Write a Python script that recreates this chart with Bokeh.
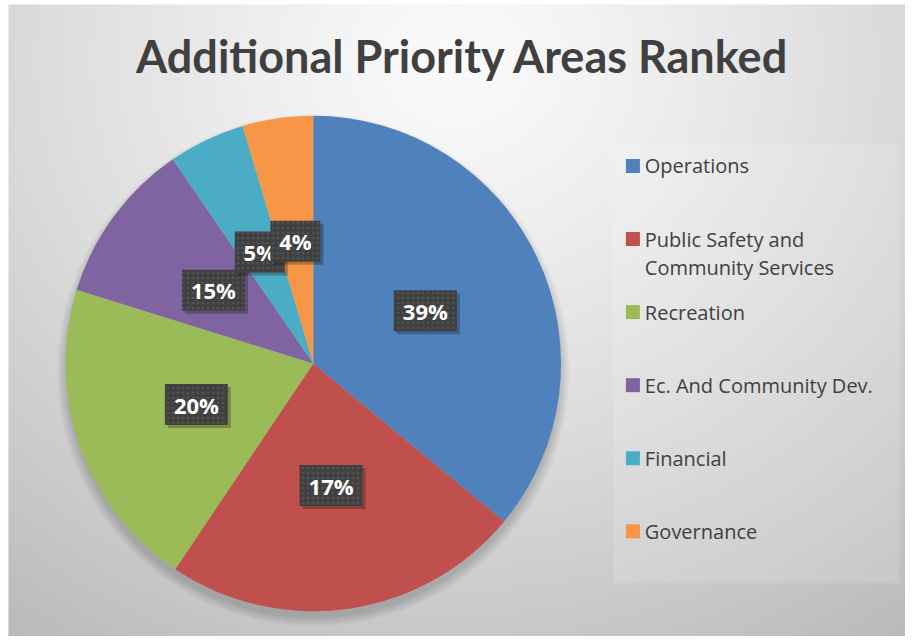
import textwrap
import numpy as np
from bokeh.plotting import figure
from bokeh.models import Range1d
from bokeh.core.properties import value
from bokeh.embed import file_html
from bokeh.resources import INLINE

# ---------------- data ----------------
title_text = "Additional Priority Areas Ranked"
categories = ["Operations", "Public Safety and Community Services", "Recreation",
              "Ec. And Community Dev.", "Financial", "Governance"]
shares = [36.0, 23.4, 20.4, 10.6, 5.0, 4.6]          # slice sizes as drawn
data_labels = ["39%", "17%", "20%", "15%", "5%", "4%"]  # labels as printed
colors = ["#4F81BD", "#C0504D", "#9BBB59", "#8064A2", "#4BACC6", "#F79646"]

# ---------------- layout (reference pixel space) ----------------
W, H = 905, 636
RW, RH = 913, 644
def Y(py):  # reference y (down) -> data y (up)
    return RH - py

p = figure(width=W, height=H, output_backend="svg", toolbar_location=None,
           x_range=Range1d(0, RW), y_range=Range1d(0, RH),
           x_axis_location=None, y_axis_location=None, min_border=0,
           outline_line_color=None, background_fill_color="white",
           border_fill_color="white")
p.grid.visible = False

# background radial gradient (decoration)
gx0, gx1, gy0, gy1 = 8, 913, 4, 644
nx, ny = (gx1 - gx0) // 2, (gy1 - gy0) // 2
xs = np.linspace(gx0, gx1, nx)
ys = np.linspace(gy1, gy0, ny)
GX, GY = np.meshgrid(xs, ys)
rr = np.sqrt(((GX - 460) / 1.1) ** 2 + (GY - 60) ** 2) / 650.0
vv = np.clip(251 - 58 * rr ** 1.2, 186, 252).astype(np.uint8)
img = np.empty((ny, nx), dtype=np.uint32)
view = img.view(dtype=np.uint8).reshape((ny, nx, 4))
view[..., 0] = vv
view[..., 1] = vv
view[..., 2] = vv
view[..., 3] = 255
p.image_rgba(image=[img], x=gx0, y=Y(gy1), dw=gx1 - gx0, dh=gy1 - gy0)

# title
p.text(x=[466.5], y=[Y(56)], text=[title_text], text_font=value("Lato"),
       text_font_style="bold", text_font_size="45px", text_color="#404040",
       text_align="center", text_baseline="middle")

# legend panel
p.quad(left=618, right=907, top=Y(145), bottom=Y(590), fill_color="white",
       fill_alpha=0.14, line_color=None)

# pie
cx, cy, R = 315.5, Y(367.5), 250.0
p.circle(x=[cx] * 5, y=[cy - 7] * 5, radius=[R - 2 + 2 * k for k in range(1, 6)],
         fill_color="black", fill_alpha=0.035, line_color=None)

tot = float(sum(shares))
cum = np.concatenate([[0.0], np.cumsum(shares)])
start = np.pi / 2 - 2 * np.pi * cum[:-1] / tot
end = np.pi / 2 - 2 * np.pi * cum[1:] / tot
p.wedge(x=[cx] * len(shares), y=[cy] * len(shares), radius=R,
        start_angle=list(start), end_angle=list(end), direction="clock",
        fill_color=colors, line_color=None)

# data labels
mid = (start + end) / 2
lx = cx + 0.5 * R * np.cos(mid)
ly = cy + 0.5 * R * np.sin(mid)
for i, lab in enumerate(data_labels):
    bw = 13 * len(lab) + 24
    p.rect(x=[lx[i] + 3], y=[ly[i] - 3], width=bw, height=41,
           width_units="screen", height_units="screen",
           fill_color="black", fill_alpha=0.25, line_color=None)
    p.rect(x=[lx[i]], y=[ly[i]], width=bw, height=41,
           width_units="screen", height_units="screen",
           fill_color="#404040", line_color=None,
           hatch_pattern="dot", hatch_color="#525252", hatch_scale=5,
           hatch_weight=1)
    p.text(x=[lx[i]], y=[ly[i]], text=[lab], text_font=value("Open Sans"),
           text_font_style="bold", text_font_size="22px", text_color="white",
           text_align="center", text_baseline="middle")

# legend entries
for i, (cat, col) in enumerate(zip(categories, colors)):
    ey = Y(167.5 + 74 * i)
    p.rect(x=[638], y=[ey], width=14, height=14, width_units="screen",
           height_units="screen", fill_color=col, line_color=None)
    for j, line in enumerate(textwrap.wrap(cat, 22)):
        p.text(x=[650], y=[ey - 28.5 * j], text=[line],
               text_font=value("Open Sans"), text_font_size="20px",
               text_color="#404040", text_align="left", text_baseline="middle")

open("out.html", "w").write(file_html(p, INLINE, title=title_text))
